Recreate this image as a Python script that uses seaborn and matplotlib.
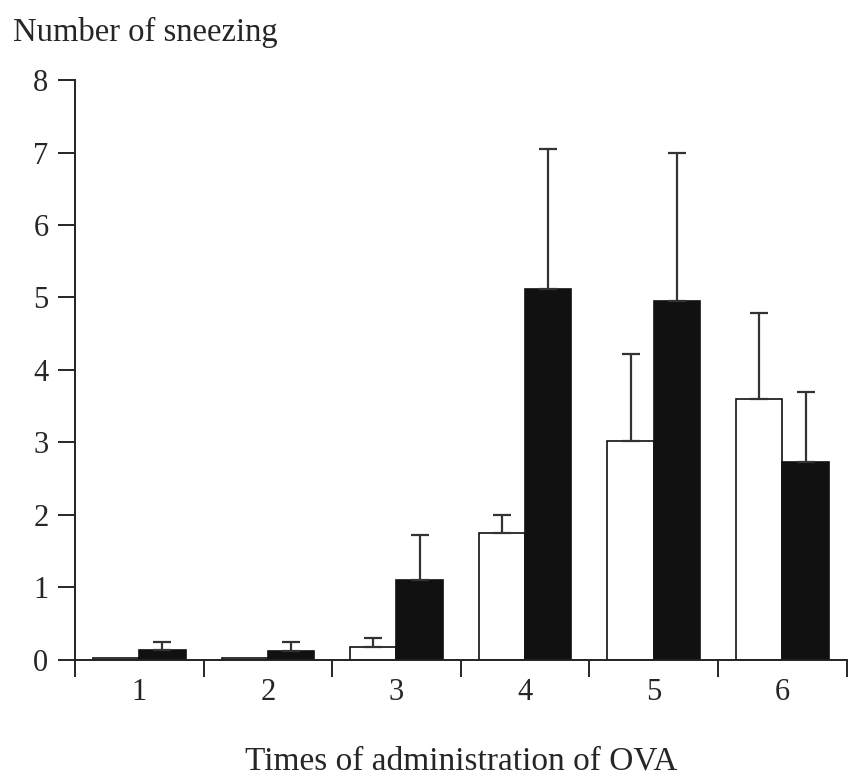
import matplotlib
matplotlib.use("Agg")
import matplotlib.pyplot as plt
import seaborn as sns
import pandas as pd

# valeurs
times = ["1", "2", "3", "4", "5", "6"]
white_mean = [0.02, 0.02, 0.17, 1.75, 3.02, 3.60]
white_err = [0.00, 0.00, 0.13, 0.25, 1.20, 1.18]
black_mean = [0.13, 0.12, 1.10, 5.12, 4.95, 2.73]
black_err = [0.12, 0.12, 0.62, 1.93, 2.05, 0.97]
groups = ["open", "filled"]

df = pd.DataFrame({
    "time": times * 2,
    "group": [groups[0]] * 6 + [groups[1]] * 6,
    "sneezing": white_mean + black_mean,
})

sns.set_style("ticks")
plt.rcParams["font.family"] = ["Liberation Serif", "DejaVu Serif"]

fig = plt.figure(figsize=(8.51, 7.78), dpi=100)
ax = fig.add_axes([0.088, 0.152, 0.907, 0.745])

sns.barplot(data=df, x="time", y="sneezing", hue="group", order=times,
            hue_order=groups, palette=["white", "#111111"], width=0.72,
            edgecolor="#111111", linewidth=1.2, errorbar=None, legend=False, ax=ax)

# barres d'erreur vers le haut seulement
for cont, errs in zip(ax.containers, [white_err, black_err]):
    for bar, e in zip(cont, errs):
        if e <= 0:
            continue
        xc = bar.get_x() + bar.get_width() / 2
        top = bar.get_height()
        ax.errorbar(xc, top, yerr=[[0], [e]], fmt="none", ecolor="#333333",
                    elinewidth=1.6, capsize=6.5, capthick=1.6)

ax.set_xlim(-0.5, 5.5)
ax.set_ylim(0, 8)
ax.set_yticks(range(0, 9))
ax.set_xticks(range(6))
ax.set_xticks([i - 0.5 for i in range(7)], minor=True)
ax.tick_params(axis="x", which="major", length=0, labelsize=22, pad=13)
ax.tick_params(axis="x", which="minor", length=12, width=1.4, direction="out")
ax.tick_params(axis="y", length=12, width=1.4, labelsize=22, pad=7)
for s in ["top", "right"]:
    ax.spines[s].set_visible(False)
for s in ["left", "bottom"]:
    ax.spines[s].set_linewidth(1.4)
    ax.spines[s].set_color("#222222")

ax.set_xlabel("Times of administration of OVA", fontsize=24, labelpad=28)
ax.set_ylabel("")
fig.text(0.015, 0.958, "Number of sneezing", fontsize=23.5, ha="left", va="center")

fig.savefig("out.png", dpi=100)
